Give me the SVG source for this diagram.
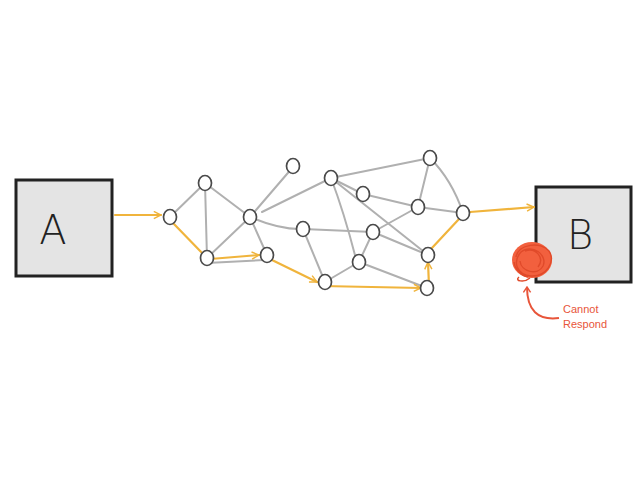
<svg xmlns="http://www.w3.org/2000/svg" width="638" height="479" viewBox="0 0 638 479">
<defs>
<style>
.box{fill:#e4e4e4;stroke:#222;stroke-width:3}
.lbl{font-family:"DejaVu Sans","Liberation Sans",sans-serif;font-weight:200;font-size:40px;fill:#222;text-anchor:middle}
.e{stroke:#b0b0b0;stroke-width:2;fill:none;stroke-linecap:round}
.o{stroke:#f0b43c;stroke-width:2.2;fill:none;stroke-linecap:round}
.n{fill:#fff;stroke:#4a4a4a;stroke-width:1.7}
.note{font-family:"Liberation Sans","DejaVu Sans",sans-serif;font-size:11px;fill:#e8553a}
</style>
<marker id="ao" viewBox="0 0 10 10" refX="9" refY="5" markerWidth="9" markerHeight="9" orient="auto" markerUnits="userSpaceOnUse">
<path d="M1,1 L9,5 L1,9" fill="none" stroke="#f0b43c" stroke-width="1.6"/>
</marker>
<marker id="ar" viewBox="0 0 10 10" refX="5" refY="1" markerWidth="9" markerHeight="9" orient="0" markerUnits="userSpaceOnUse">
<path d="M1,7 L5,1 L9,7" fill="none" stroke="#e8553a" stroke-width="1.6"/>
</marker>
</defs>
<rect width="638" height="479" fill="#fff"/>
<g id="A"><rect class="box" x="16" y="180" width="96" height="96"/><text class="lbl" x="53" y="244">A</text></g>
<g id="B"><rect class="box" x="536" y="187" width="95" height="95"/><text class="lbl" x="580" y="249">B</text></g>
<g id="connectors">
<line class="e" x1="170" y1="217" x2="205" y2="183"/>
<line class="e" x1="205" y1="183" x2="207" y2="258"/>
<line class="e" x1="205" y1="183" x2="250" y2="217"/>
<line class="e" x1="207" y1="258" x2="250" y2="217"/>
<line class="e" x1="207" y1="263" x2="264" y2="260"/>
<line class="e" x1="250" y1="217" x2="267" y2="255"/>
<line class="e" x1="250" y1="217" x2="293" y2="167"/>
<line class="e" x1="262" y1="212" x2="331" y2="178"/>
<path class="e" d="M250,217 Q280,230 303,229"/>
<line class="e" x1="303" y1="229" x2="325" y2="282"/>
<line class="e" x1="303" y1="229" x2="373" y2="232"/>
<line class="e" x1="331" y1="178" x2="430" y2="158"/>
<line class="e" x1="331" y1="178" x2="363" y2="194"/>
<path class="e" d="M331,178 Q345,215 357,263"/>
<line class="e" x1="331" y1="178" x2="428" y2="255"/>
<line class="e" x1="363" y1="194" x2="418" y2="207"/>
<line class="e" x1="430" y1="158" x2="418" y2="207"/>
<path class="e" d="M430,158 Q452,180 463,213"/>
<line class="e" x1="418" y1="207" x2="463" y2="213"/>
<line class="e" x1="418" y1="207" x2="373" y2="232"/>
<line class="e" x1="373" y1="232" x2="359" y2="262"/>
<line class="e" x1="373" y1="232" x2="428" y2="255"/>
<line class="e" x1="325" y1="282" x2="359" y2="262"/>
<line class="e" x1="359" y1="262" x2="427" y2="288"/>
<line class="o" x1="115" y1="215" x2="161" y2="215" marker-end="url(#ao)"/>
<line class="o" x1="173" y1="223" x2="205" y2="256"/>
<line class="o" x1="210" y1="259" x2="259" y2="255" marker-end="url(#ao)"/>
<line class="o" x1="272" y1="260" x2="317" y2="282" marker-end="url(#ao)"/>
<line class="o" x1="322" y1="286" x2="421" y2="288" marker-end="url(#ao)"/>
<line class="o" x1="429" y1="286" x2="428" y2="262" marker-end="url(#ao)"/>
<line class="o" x1="431" y1="249" x2="459" y2="219"/>
<line class="o" x1="470" y1="212" x2="534" y2="207" marker-end="url(#ao)"/>
<path d="M559,318 Q527,322 527,287" fill="none" stroke="#e8553a" stroke-width="2" marker-end="url(#ar)"/>
</g>
<g id="nodes">
<ellipse id="n1" class="n" cx="170" cy="217" rx="6.5" ry="7.5"/>
<ellipse id="n2" class="n" cx="205" cy="183" rx="6.5" ry="7.5"/>
<ellipse id="n3" class="n" cx="207" cy="258" rx="6.5" ry="7.5"/>
<ellipse id="n4" class="n" cx="250" cy="217" rx="6.5" ry="7.5"/>
<ellipse id="n5" class="n" cx="267" cy="255" rx="6.5" ry="7.5"/>
<ellipse id="n6" class="n" cx="293" cy="166" rx="6.5" ry="7.5"/>
<ellipse id="n7" class="n" cx="303" cy="229" rx="6.5" ry="7.5"/>
<ellipse id="n8" class="n" cx="331" cy="178" rx="6.5" ry="7.5"/>
<ellipse id="n9" class="n" cx="363" cy="194" rx="6.5" ry="7.5"/>
<ellipse id="n10" class="n" cx="430" cy="158" rx="6.5" ry="7.5"/>
<ellipse id="n11" class="n" cx="418" cy="207" rx="6.5" ry="7.5"/>
<ellipse id="n12" class="n" cx="463" cy="213" rx="6.5" ry="7.5"/>
<ellipse id="n13" class="n" cx="373" cy="232" rx="6.5" ry="7.5"/>
<ellipse id="n14" class="n" cx="359" cy="262" rx="6.5" ry="7.5"/>
<ellipse id="n15" class="n" cx="428" cy="255" rx="6.5" ry="7.5"/>
<ellipse id="n16" class="n" cx="325" cy="282" rx="6.5" ry="7.5"/>
<ellipse id="n17" class="n" cx="427" cy="288" rx="6.5" ry="7.5"/>
</g>
<g id="scribble">
<ellipse cx="532" cy="260" rx="20" ry="18" fill="#f2603e"/>
<path d="M516,257 C518,244 541,241 549,251 C556,262 546,277 531,276 C517,275 512,262 521,252 C532,243 548,255 543,266 C538,276 521,272 520,261 M525,251 C536,247 545,258 538,267 M514,262 C515,270 522,276 528,277" fill="none" stroke="#e04a2a" stroke-width="1.4"/>
<path d="M519,277 C514,281 524,283 530,278" fill="none" stroke="#e04a2a" stroke-width="1.5"/>
<text class="note" x="563" y="313">Cannot</text>
<text class="note" x="563" y="328">Respond</text>
</g>
</svg>
